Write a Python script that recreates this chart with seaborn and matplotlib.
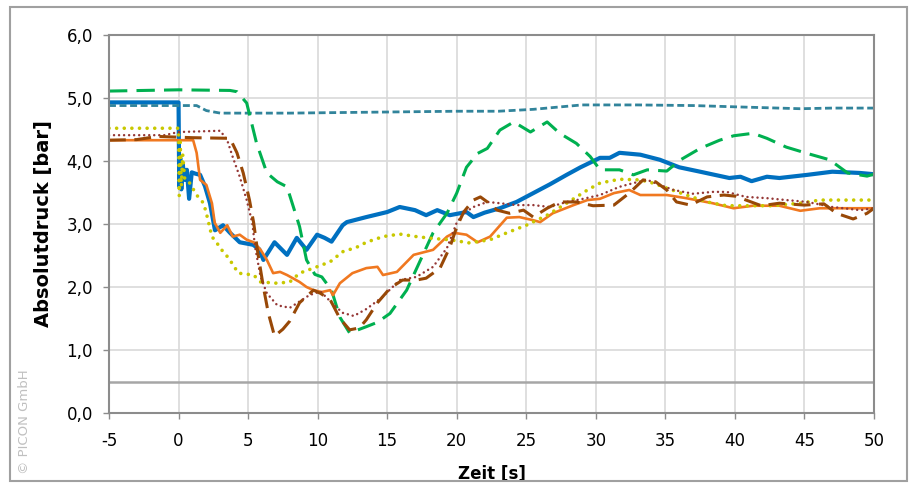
import matplotlib
matplotlib.use("Agg")
import matplotlib.pyplot as plt
import seaborn as sns
import pandas as pd
from matplotlib.ticker import FuncFormatter
from matplotlib.patches import Rectangle

# Messreihen: Zeit [s] und Absolutdruck [bar]
t_blue = [-5, 0.0, 0.05, 0.12, 0.2, 0.3, 0.45, 0.6, 0.76, 0.95, 1.2, 1.55, 1.9, 2.26, 2.62, 3.2, 3.7, 4.4,
          5.36, 5.8, 6.1, 6.9, 7.8, 8.5, 9.2, 9.96, 10.5, 11.0, 11.8, 12.1, 13.5, 15.0, 15.9, 17.0, 17.8,
          18.6, 19.5, 20.7, 21.2, 22.0, 23.1, 24.3, 25.5, 26.7, 27.9, 28.9, 30.3, 31.0, 31.7, 33.2, 34.6,
          36.0, 37.5, 39.6, 40.4, 41.2, 42.3, 43.2, 45.2, 47.0, 49.0, 50.0]
p_blue = [4.93, 4.93, 3.6, 4.05, 3.55, 3.95, 3.7, 3.86, 3.4, 3.82, 3.8, 3.78, 3.6, 3.33, 2.9, 2.98, 2.86, 2.71,
          2.67, 2.6, 2.43, 2.71, 2.51, 2.78, 2.59, 2.83, 2.78, 2.72, 2.98, 3.03, 3.11, 3.19, 3.27, 3.22, 3.14,
          3.22, 3.14, 3.19, 3.11, 3.18, 3.25, 3.35, 3.49, 3.63, 3.78, 3.9, 4.05, 4.05, 4.13, 4.1, 4.02,
          3.9, 3.83, 3.73, 3.75, 3.68, 3.75, 3.73, 3.78, 3.83, 3.81, 3.79]

t_teal = [-5, 1.3, 2.0, 3.0, 5.0, 8.0, 12.0, 16.0, 20.0, 23.0, 25.5, 27.0, 29.0, 33.0, 37.0, 40.0, 44.7, 47.0, 50.0]
p_teal = [4.88, 4.88, 4.8, 4.76, 4.76, 4.76, 4.77, 4.78, 4.79, 4.79, 4.82, 4.85, 4.89, 4.89, 4.88, 4.86, 4.83, 4.84, 4.84]

t_green = [-5, 0, 3.7, 4.2, 4.9, 5.6, 6.35, 7.1, 7.8, 8.7, 9.2, 9.8, 10.3, 11.0, 11.6, 12.3, 13.5, 14.3, 15.2,
           16.4, 17.4, 18.3, 19.3, 20.0, 20.7, 21.5, 22.2, 23.1, 24.1, 25.3, 26.5, 27.4, 28.6, 29.6, 30.3,
           31.7, 32.7, 33.7, 35.1, 36.1, 37.5, 38.9, 39.9, 41.3, 42.3, 43.7, 45.2, 46.8, 48.1, 49.5, 50.0]
p_green = [5.11, 5.13, 5.12, 5.1, 4.92, 4.29, 3.81, 3.67, 3.59, 2.96, 2.43, 2.2, 2.16, 1.95, 1.52, 1.27, 1.37, 1.44, 1.58,
           1.95, 2.43, 2.86, 3.17, 3.49, 3.9, 4.12, 4.2, 4.49, 4.62, 4.46, 4.62, 4.44, 4.28, 4.07, 3.86,
           3.86, 3.78, 3.86, 3.84, 4.02, 4.2, 4.33, 4.4, 4.44, 4.36, 4.22, 4.12, 4.02, 3.81, 3.76, 3.79]

t_orange = [-5, 1.05, 1.3, 1.55, 2.0, 2.4, 2.6, 3.0, 3.5, 3.9, 4.4, 4.9, 5.4, 5.9, 6.35, 6.8, 7.3, 7.8, 8.7, 9.2,
            9.7, 10.3, 10.9, 11.1, 11.6, 12.5, 13.5, 14.3, 14.7, 15.7, 16.9, 18.3, 19.3, 19.8, 20.7, 21.5,
            22.4, 23.6, 24.5, 25.5, 26.0, 26.9, 28.4, 29.4, 30.3, 31.3, 32.4, 33.2, 35.1, 36.5, 38.4, 39.9,
            41.3, 43.2, 44.7, 46.1, 50.0]
p_orange = [4.33, 4.33, 4.13, 3.7, 3.62, 3.33, 3.02, 2.86, 2.98, 2.8, 2.83, 2.75, 2.71, 2.59, 2.43, 2.22, 2.24, 2.19, 2.08, 2.0,
            1.95, 1.92, 1.95, 1.87, 2.06, 2.22, 2.3, 2.32, 2.19, 2.24, 2.51, 2.59, 2.8, 2.86, 2.83, 2.71,
            2.8, 3.1, 3.11, 3.06, 3.03, 3.17, 3.3, 3.38, 3.4, 3.49, 3.54, 3.46, 3.46, 3.41, 3.33, 3.25,
            3.29, 3.29, 3.21, 3.25, 3.25]

t_yellow = [-5, 0.0, 0.05, 0.12, 0.2, 0.3, 0.45, 0.8, 1.3, 1.8, 2.0, 2.4, 2.75, 3.2, 3.6, 4.3, 5.4, 5.9, 7.1, 8.0,
            8.7, 9.7, 10.9, 11.8, 12.8, 13.5, 14.7, 15.9, 17.1, 18.3, 19.5, 20.9, 22.4, 23.6, 25.0, 26.5,
            27.9, 29.4, 30.3, 31.7, 33.2, 34.1, 35.1, 36.5, 38.0, 39.4, 42.7, 44.7, 46.1, 50.0]
p_yellow = [4.52, 4.52, 3.45, 4.3, 3.6, 4.1, 3.7, 3.65, 3.46, 3.33, 3.17, 2.8, 2.7, 2.56, 2.46, 2.22, 2.19, 2.08, 2.06, 2.08,
            2.22, 2.3, 2.4, 2.56, 2.63, 2.71, 2.8, 2.84, 2.8, 2.77, 2.75, 2.7, 2.75, 2.86, 2.98, 3.14,
            3.33, 3.54, 3.65, 3.71, 3.7, 3.65, 3.57, 3.46, 3.35, 3.29, 3.29, 3.33, 3.38, 3.38]

t_maroon = [-5, -1.0, 0.0, 3.0, 3.5, 3.9, 4.4, 4.9, 5.3, 5.5, 5.9, 6.35, 7.1, 8.0, 8.7, 9.4, 10.2, 11.1, 11.8, 12.6,
            13.5, 14.6, 15.9, 17.1, 18.3, 19.3, 20.0, 20.5, 21.2, 22.2, 23.1, 24.3, 25.5, 26.7, 27.9, 29.1,
            30.3, 31.7, 32.7, 33.7, 34.6, 35.6, 37.0, 38.4, 39.4, 40.8, 42.3, 43.7, 45.2, 47.0, 49.0, 50.0]
p_maroon = [4.41, 4.41, 4.46, 4.48, 4.33, 4.06, 3.75, 3.38, 3.02, 2.64, 2.16, 1.9, 1.71, 1.67, 1.77, 1.87, 1.93, 1.73, 1.59, 1.54,
            1.65, 1.83, 2.11, 2.16, 2.32, 2.62, 3.02, 3.17, 3.27, 3.35, 3.33, 3.3, 3.3, 3.27, 3.35, 3.4,
            3.46, 3.59, 3.65, 3.7, 3.62, 3.54, 3.48, 3.51, 3.51, 3.43, 3.41, 3.38, 3.35, 3.27, 3.22, 3.25]

t_brown = [-5, -3.0, -1.5, 1.0, 3.7, 4.2, 4.65, 5.1, 5.4, 5.7, 6.1, 6.45, 6.9, 7.5, 8.0, 8.7, 9.7, 10.2, 10.9, 11.6,
           12.3, 13.0, 13.5, 14.3, 15.2, 16.1, 17.1, 17.8, 18.8, 19.5, 20.0, 20.5, 21.2, 21.7, 22.2, 22.9,
           23.8, 24.8, 25.5, 26.5, 27.4, 28.6, 29.8, 31.3, 32.4, 33.4, 34.3, 35.1, 35.8, 36.8, 38.0, 39.2,
           40.1, 40.8, 41.9, 43.2, 45.0, 46.4, 47.3, 48.5, 49.5, 50.0]
p_brown = [4.33, 4.34, 4.39, 4.37, 4.36, 4.13, 3.81, 3.38, 3.02, 2.54, 2.0, 1.59, 1.22, 1.33, 1.46, 1.75, 1.95, 1.9, 1.8, 1.5,
           1.32, 1.35, 1.48, 1.75, 1.98, 2.11, 2.11, 2.14, 2.3, 2.63, 2.95, 3.19, 3.38, 3.43, 3.35, 3.22,
           3.17, 3.22, 3.11, 3.25, 3.35, 3.35, 3.29, 3.3, 3.49, 3.7, 3.67, 3.54, 3.35, 3.3, 3.43, 3.46,
           3.44, 3.38, 3.29, 3.33, 3.3, 3.32, 3.17, 3.08, 3.17, 3.25]

limit = 0.5
x_ticks = list(range(-5, 51, 5))
y_ticks = [0, 1, 2, 3, 4, 5, 6]

sns.set_theme(style="whitegrid")
plt.rcParams['font.family'] = ['DejaVu Sans']
plt.rcParams['axes.unicode_minus'] = False

fig = plt.figure(figsize=(9.09, 4.83), dpi=100)
ax = fig.add_axes([109/909, 1 - 413/483, (874 - 109)/909, (413 - 35)/483])
ax.set_facecolor("white")

# (zeit, druck, farbe, breite, linienstil, kappe)
series = [
    (t_blue, p_blue, "#0070C0", 3.0, "-", "butt"),
    (t_teal, p_teal, "#31849B", 2.0, (0, (2.5, 1.3)), "butt"),
    (t_green, p_green, "#00B050", 2.2, (0, (6.0, 3.0)), "butt"),
    (t_orange, p_orange, "#F07820", 1.9, "-", "butt"),
    (t_yellow, p_yellow, "#C8C800", 2.6, (0, (0.01, 2.1)), "round"),
    (t_maroon, p_maroon, "#953735", 1.8, (0, (0.01, 2.0)), "round"),
    (t_brown, p_brown, "#984807", 2.2, (0, (5.5, 2.8)), "butt"),
]
for t, p, col, lw, ls, cap in series:
    df = pd.DataFrame({"Zeit": t, "Druck": p})
    sns.lineplot(data=df, x="Zeit", y="Druck", ax=ax, color=col, lw=lw, linestyle=ls,
                 dash_capstyle=cap, sort=False, estimator=None)

ax.axhline(limit, color="#A6A6A6", lw=1.8, zorder=1.5)

ax.set_xlim(-5, 50)
ax.set_ylim(0, 6)
ax.set_xticks(x_ticks)
ax.set_yticks(y_ticks)
ax.yaxis.set_major_formatter(FuncFormatter(lambda v, _: f"{v:.1f}".replace(".", ",")))
ax.grid(True, color="#D9D9D9", lw=1.2)
for s in ax.spines.values():
    s.set_visible(True)
    s.set_color("#8C8C8C")
    s.set_linewidth(1.5)
ax.tick_params(axis="both", which="both", direction="out", length=4.5, width=1.0, color="#8C8C8C",
               labelsize=12, labelcolor="black", bottom=True, left=True)
ax.tick_params(axis="y", pad=7)
ax.tick_params(axis="x", pad=9)

ax.set_xlabel("Zeit [s]", fontsize=12, fontweight="bold", color="black")
ax.set_ylabel("Absolutdruck [bar]", fontsize=14, fontweight="bold", color="black")
ax.xaxis.set_label_coords(0.5, -0.137)
ax.yaxis.set_label_coords(-0.073, 0.5)

fig.text(25/909, 1 - 422/483, "© PICON GmbH", rotation=90, ha="center", va="center",
         color="#C0C0C0", fontsize=9.5)
fig.add_artist(Rectangle((10/909, 1 - 481/483), 897/909, 474/483, transform=fig.transFigure,
                         fill=False, edgecolor="#A0A0A0", lw=1.5))

fig.savefig("out.png", dpi=100)
